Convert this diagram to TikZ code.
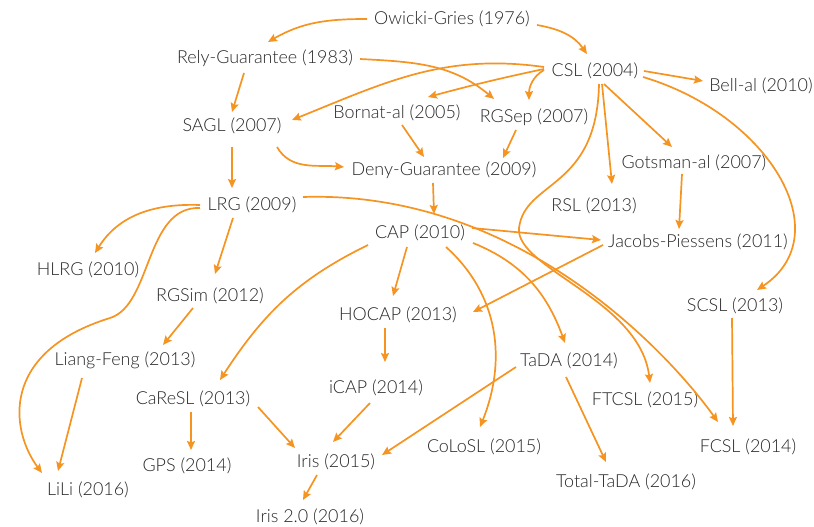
\documentclass[tikz,border=0pt]{standalone}
\usepackage{fontspec}
\setmainfont{Lato-Light.ttf}
\usetikzlibrary{arrows.meta}
\definecolor{edgeorange}{RGB}{245,148,32}
\definecolor{labelgray}{RGB}{38,38,38}
\tikzset{>={Stealth[length=9bp,width=8bp,inset=1.5bp]}}
\tikzset{
  sys/.style={text=labelgray, font=\fontsize{18}{21}\selectfont, inner sep=0pt},
  dep/.style={->, draw=edgeorange, line width=1.7bp},
}

\begin{document}
\begin{tikzpicture}[x=1bp,y=1bp]
    \useasboundingbox (0,0) rectangle (814,-527);
    % systems
    \node[sys] (og) at (452,-19) {Owicki-Gries (1976)};
    \node[sys] (rg) at (265,-58) {Rely-Guarantee (1983)};
    \node[sys] (csl) at (595,-71) {CSL (2004)};
    \node[sys] (bell) at (761,-86) {Bell-al (2010)};
    \node[sys] (sagl) at (232,-126) {SAGL (2007)};
    \node[sys] (bornat) at (397,-113) {Bornat-al (2005)};
    \node[sys] (rgsep) at (534,-117) {RGSep (2007)};
    \node[sys] (deny) at (444,-170) {Deny-Guarantee (2009)};
    \node[sys] (gotsman) at (694,-163) {Gotsman-al (2007)};
    \node[sys] (rsl) at (594,-206) {RSL (2013)};
    \node[sys] (lrg) at (252,-205) {LRG (2009)};
    \node[sys] (cap) at (420,-233) {CAP (2010)};
    \node[sys] (jp) at (698,-242) {Jacobs-Piessens (2011)};
    \node[sys] (hlrg) at (88,-270) {HLRG (2010)};
    \node[sys] (rgsim) at (210,-296) {RGSim (2012)};
    \node[sys] (scsl) at (735,-306) {SCSL (2013)};
    \node[sys] (hocap) at (398,-315) {HOCAP (2013)};
    \node[sys] (liang) at (125,-360) {Liang-Feng (2013)};
    \node[sys] (tada) at (569,-361) {TaDA (2014)};
    \node[sys] (icap) at (376,-388) {iCAP (2014)};
    \node[sys] (caresl) at (193,-399) {CaReSL (2013)};
    \node[sys] (ftcsl) at (645,-400) {FTCSL (2015)};
    \node[sys] (colosl) at (484,-447) {CoLoSL (2015)};
    \node[sys] (fcsl) at (748,-447) {FCSL (2014)};
    \node[sys] (gps) at (187,-466) {GPS (2014)};
    \node[sys] (iris) at (336,-462) {Iris (2015)};
    \node[sys] (ttada) at (626,-482) {Total-TaDA (2016)};
    \node[sys] (lili) at (88,-490) {LiLi (2016)};
    \node[sys] (iris2) at (310,-517) {Iris 2.0 (2016)};

    % from Owicki-Gries and Rely-Guarantee
    \draw[dep] ([shift={(-85,0)}]og.center) to[out=180,in=30] ([shift={(3,16)}]rg.center);
    \draw[dep] ([shift={(85,-6)}]og.center) to[out=-10,in=125] ([shift={(-8,17)}]csl.center);
    \draw[dep] ([shift={(-21,-15)}]rg.center) -- ([shift={(0,14)}]sagl.center);
    \draw[dep] ([shift={(95,-1)}]rg.center) to[out=-3,in=140] ([shift={(-40,18)}]rgsep.center);

    % from CSL
    \draw[dep] ([shift={(-51,4)}]csl.center) to[out=172,in=22] ([shift={(60,6)}]sagl.center);
    \draw[dep] ([shift={(-51,2)}]csl.center) to[out=192,in=15] ([shift={(31,16)}]bornat.center);
    \draw[dep] ([shift={(-51,1)}]csl.center) to[out=210,in=90] ([shift={(-5,17)}]rgsep.center);
    \draw[dep] ([shift={(49,0)}]csl.center) -- ([shift={(-58,5)}]bell.center);
    \draw[dep] ([shift={(9,-13)}]csl.center) -- ([shift={(-22,16)}]gotsman.center);
    \draw[dep] ([shift={(7,-13)}]csl.center) -- ([shift={(18,22)}]rsl.center);
    \draw[dep] ([shift={(4,-13)}]csl.center) .. controls (597,-190) and (525,-180) .. (519,-228)
        .. controls (515,-268) and (640,-300) .. ([shift={(5,17)}]ftcsl.center);
    \draw[dep] ([shift={(48,-6)}]csl.center) .. controls (770,-115) and (840,-235) .. ([shift={(22,16)}]scsl.center);

    % SAGL, Bornat-al, RGSep, Deny-Guarantee
    \draw[dep] ([shift={(0,-21)}]sagl.center) -- ([shift={(-20,17)}]lrg.center);
    \draw[dep] ([shift={(45,-21)}]sagl.center) to[out=-60,in=175] ([shift={(-100,3)}]deny.center);
    \draw[dep] ([shift={(5,-12)}]bornat.center) -- ([shift={(-20,13)}]deny.center);
    \draw[dep] ([shift={(-18,-13)}]rgsep.center) -- ([shift={(59,12)}]deny.center);
    \draw[dep] ([shift={(-11,-13)}]deny.center) -- ([shift={(14,19)}]cap.center);

    % from LRG
    \draw[dep] ([shift={(-52,0)}]lrg.center) to[out=178,in=58] ([shift={(7,17)}]hlrg.center);
    \draw[dep] ([shift={(-52,-3)}]lrg.center) .. controls (145,-206) and (152,-305) .. (110,-318)
        .. controls (0,-352) and (10,-430) .. ([shift={(-46,17)}]lili.center);
    \draw[dep] ([shift={(-19,-13)}]lrg.center) -- ([shift={(5,22)}]rgsim.center);
    \draw[dep] ([shift={(51,8)}]lrg.center) .. controls (520,-190) and (670,-355) .. ([shift={(-30,25)}]fcsl.center);
    \draw[dep] ([shift={(-17,-12)}]rgsim.center) -- ([shift={(38,15)}]liang.center);
    \draw[dep] ([shift={(-43,-18)}]liang.center) -- ([shift={(-30,19)}]lili.center);

    % from CAP
    \draw[dep] ([shift={(-13,-14)}]cap.center) -- ([shift={(-5,19)}]hocap.center);
    \draw[dep] ([shift={(-52,-12)}]cap.center) to[out=206,in=57] ([shift={(27,19)}]caresl.center);
    \draw[dep] ([shift={(52,5)}]cap.center) -- ([shift={(-97,2)}]jp.center);
    \draw[dep] ([shift={(53,-10)}]cap.center) to[out=-22,in=110] ([shift={(-4,18)}]tada.center);
    \draw[dep] ([shift={(26,-14)}]cap.center) to[out=-42,in=68] ([shift={(-4,20)}]colosl.center);
    \draw[dep] ([shift={(-95,-3)}]jp.center) -- ([shift={(75,3)}]hocap.center);
    \draw[dep] ([shift={(-12,-11)}]gotsman.center) -- ([shift={(-19,13)}]jp.center);
    \draw[dep] ([shift={(-3,-12)}]scsl.center) -- ([shift={(-15,21)}]fcsl.center);

    % lower part
    \draw[dep] ([shift={(-13,-13)}]hocap.center) -- ([shift={(9,26)}]icap.center);
    \draw[dep] ([shift={(-6,-15)}]icap.center) -- ([shift={(-3,20)}]iris.center);
    \draw[dep] ([shift={(-53,-6)}]tada.center) -- ([shift={(46,7)}]iris.center);
    \draw[dep] ([shift={(-3,-16)}]tada.center) -- ([shift={(-20,20)}]ttada.center);
    \draw[dep] ([shift={(-2,-13)}]caresl.center) -- ([shift={(4,16)}]gps.center);
    \draw[dep] ([shift={(65,-8)}]caresl.center) -- ([shift={(-41,14)}]iris.center);
    \draw[dep] ([shift={(-19,-13)}]iris.center) -- ([shift={(-7,17)}]iris2.center);
\end{tikzpicture}
\end{document}
